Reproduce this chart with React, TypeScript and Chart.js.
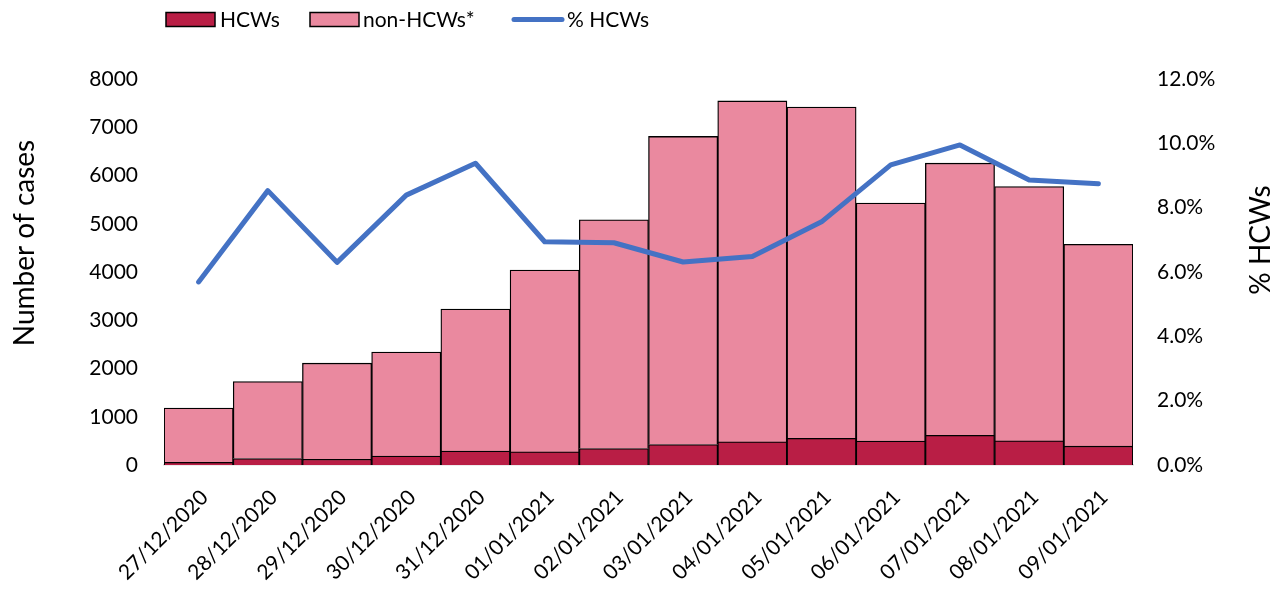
import React, { useEffect, useRef } from "react";
import { Chart, registerables } from "chart.js";

Chart.register(...registerables);

const dateLabels = [
  "27/12/2020", "28/12/2020", "29/12/2020", "30/12/2020", "31/12/2020",
  "01/01/2021", "02/01/2021", "03/01/2021", "04/01/2021", "05/01/2021",
  "06/01/2021", "07/01/2021", "08/01/2021", "09/01/2021",
];
const hcwCases = [55, 135, 120, 185, 290, 272, 340, 423, 480, 552, 495, 614, 500, 390];
const nonHcwCases = [1125, 1595, 1990, 2155, 2940, 3768, 4740, 6387, 7065, 6868, 4935, 5641, 5270, 4185];
const pctHcw = [5.69, 8.53, 6.3, 8.39, 9.38, 6.94, 6.91, 6.31, 6.48, 7.56, 9.33, 9.95, 8.86, 8.74];

const leftTitle = "Number of cases";
const rightTitle = "% HCWs";

const FONT = "Lato, 'Liberation Sans', sans-serif";
const RED = "#B91E45";
const PINK = "#EA899F";
const BLUE = "#4472C4";

const overlayPlugin = {
  id: "overlay",
  afterDraw(chart: any) {
    const ctx = chart.ctx;
    ctx.save();
    ctx.fillStyle = "#000";
    ctx.font = `28px ${FONT}`;
    ctx.textAlign = "center";
    ctx.textBaseline = "middle";
    ctx.save();
    ctx.translate(25, 243);
    ctx.rotate(-Math.PI / 2);
    ctx.fillText(leftTitle, 0, 0);
    ctx.restore();
    ctx.save();
    ctx.translate(1261, 240);
    ctx.rotate(-Math.PI / 2);
    ctx.fillText(rightTitle, 0, 0);
    ctx.restore();

    const ds = chart.data.datasets;
    ctx.font = `21px ${FONT}`;
    ctx.textAlign = "left";
    ctx.textBaseline = "middle";
    const ly = 19.5;
    ctx.fillStyle = ds[0].backgroundColor;
    ctx.fillRect(166, 12.5, 49, 14);
    ctx.strokeStyle = "#000";
    ctx.lineWidth = 1.5;
    ctx.strokeRect(166, 12.5, 49, 14);
    ctx.fillStyle = "#000";
    ctx.fillText(ds[0].label, 220, ly + 1);
    ctx.fillStyle = ds[1].backgroundColor;
    ctx.fillRect(310, 12.5, 49, 14);
    ctx.strokeRect(310, 12.5, 49, 14);
    ctx.fillStyle = "#000";
    ctx.fillText(ds[1].label, 363, ly + 1);
    ctx.strokeStyle = ds[2].borderColor;
    ctx.lineWidth = 5;
    ctx.lineCap = "round";
    ctx.beginPath();
    ctx.moveTo(514, ly);
    ctx.lineTo(562, ly);
    ctx.stroke();
    ctx.fillStyle = "#000";
    ctx.fillText(ds[2].label, 567, ly + 1);
    ctx.restore();
  },
};

export default function App() {
  const ref = useRef<HTMLCanvasElement | null>(null);

  useEffect(() => {
    if (!ref.current) return;
    const chart = new Chart(ref.current, {
      type: "bar",
      data: {
        labels: dateLabels,
        datasets: [
          {
            type: "bar",
            label: "HCWs",
            data: hcwCases,
            backgroundColor: RED,
            borderColor: "#000",
            borderWidth: 1.3,
            barPercentage: 1,
            categoryPercentage: 1,
            stack: "s",
            yAxisID: "y",
            order: 1,
          },
          {
            type: "bar",
            label: "non-HCWs*",
            data: nonHcwCases,
            backgroundColor: PINK,
            borderColor: "#000",
            borderWidth: 1.3,
            barPercentage: 1,
            categoryPercentage: 1,
            stack: "s",
            yAxisID: "y",
            order: 1,
          },
          {
            type: "line",
            label: "% HCWs",
            data: pctHcw,
            borderColor: BLUE,
            backgroundColor: BLUE,
            borderWidth: 5,
            pointRadius: 0,
            tension: 0,
            borderCapStyle: "round",
            borderJoinStyle: "round",
            yAxisID: "y1",
            order: 0,
          },
        ] as any,
      },
      options: {
        responsive: false,
        animation: false,
        layout: { padding: { top: 79, left: 0, right: 0, bottom: 0 } },
        plugins: {
          legend: { display: false },
          tooltip: { enabled: false },
          title: { display: false },
        },
        scales: {
          x: {
            stacked: true,
            offset: true,
            grid: { display: false, drawTicks: false },
            border: { display: true, color: "#D9D9D9", width: 1.5 },
            ticks: {
              color: "#000",
              font: { family: FONT, size: 21 },
              minRotation: 45,
              maxRotation: 45,
              autoSkip: false,
              padding: 20,
              labelOffset: 6,
            },
            afterFit(scale: any) {
              scale.height = 125;
            },
          },
          y: {
            position: "left",
            stacked: true,
            min: 0,
            max: 8000,
            grid: { display: false, drawTicks: false },
            border: { display: false },
            ticks: {
              stepSize: 1000,
              color: "#000",
              font: { family: FONT, size: 21 },
              padding: 26,
              callback: (v: any) => String(v),
            },
            afterFit(scale: any) {
              scale.width = 164;
            },
          },
          y1: {
            position: "right",
            min: 0,
            max: 12,
            grid: { display: false, drawTicks: false },
            border: { display: false },
            ticks: {
              stepSize: 2,
              color: "#000",
              font: { family: FONT, size: 21 },
              padding: 24,
              callback: (v: any) => Number(v).toFixed(1) + "%",
            },
            afterFit(scale: any) {
              scale.width = 149;
            },
          },
        },
      } as any,
      plugins: [overlayPlugin],
    });
    return () => chart.destroy();
  }, []);

  return (
    <div style={{ position: "absolute", left: 0, top: 0, width: 1282, height: 590, background: "#fff" }}>
      <canvas ref={ref} width={1282} height={590} style={{ display: "block" }} />
    </div>
  );
}
